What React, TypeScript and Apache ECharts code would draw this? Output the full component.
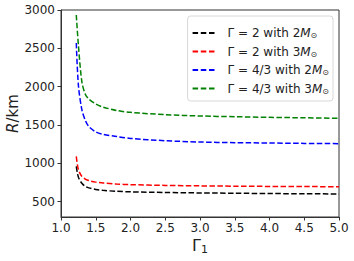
import React, { useEffect, useRef } from "react";
import * as echarts from "echarts";

const gamma1 = [1.22, 1.25, 1.3, 1.35, 1.4, 1.5, 1.6, 1.8, 2.0, 2.5, 3.0, 3.5, 4.0, 4.5, 5.0];
const black2M = [960, 820, 740, 700, 680, 660, 648, 635, 628, 620, 614, 610, 606, 603, 601];
const red3M = [1090, 920, 830, 795, 775, 755, 745, 730, 722, 712, 706, 702, 699, 697, 695];
const blue2M = [2570, 2022, 1700, 1560, 1480, 1410, 1380, 1350, 1325, 1295, 1278, 1270, 1265, 1260, 1257];
const green3M = [2935, 2544, 2065, 1900, 1840, 1775, 1735, 1690, 1665, 1635, 1618, 1608, 1600, 1594, 1588];

const seriesNames = ["Γ = 2 with 2M", "Γ = 2 with 3M", "Γ = 4/3 with 2M", "Γ = 4/3 with 3M"];
const seriesColors = ["#000000", "#ff0000", "#0000ff", "#008000"];
const seriesValues = [black2M, red3M, blue2M, green3M];
const yTicks = [500, 1000, 1500, 2000, 2500, 3000];

const dashIcon = "path://M0,0H5.5V2H0Z M8.2,0H13.7V2H8.2Z M16.4,0H21.9V2H16.4Z";

export default function App() {
  const ref = useRef<HTMLDivElement>(null);
  useEffect(() => {
    if (!ref.current) return;
    const chart = echarts.init(ref.current, undefined, { renderer: "svg" });
    const font = "DejaVu Sans";
    chart.setOption({
      animation: false,
      grid: {
        left: 61,
        right: 15,
        top: 10,
        bottom: 44,
        containLabel: false,
        outerBoundsMode: "none",
        show: true,
        borderColor: "#333",
        borderWidth: 1,
      },
      legend: {
        orient: "vertical",
        right: 21,
        top: 16,
        itemWidth: 22,
        itemHeight: 2,
        itemGap: 6,
        padding: [11, 4, 6, 5],
        backgroundColor: "#fff",
        borderColor: "#d8d8d8",
        borderWidth: 1,
        borderRadius: 3,
        icon: dashIcon,
        data: seriesNames,
        formatter: (name: string) => {
          const base = name.slice(0, -1);
          return `${base}{i|M}{s|⊙}`;
        },
        textStyle: {
          fontFamily: font,
          fontSize: 12,
          color: "#222",
          padding: [0, 0, 0, 8],
          rich: {
            i: { fontFamily: font, fontSize: 12, fontStyle: "italic", color: "#222" },
            s: { fontFamily: font, fontSize: 8, color: "#222", verticalAlign: "bottom", padding: [5, 0, 0, 0] },
          },
        },
      },
      xAxis: {
        type: "value",
        min: 1,
        max: 5,
        interval: 0.5,
        name: "{g|Γ}{s|1}",
        nameLocation: "middle",
        nameGap: 19,
        nameMoveOverlap: false,
        nameTextStyle: {
          rich: {
            g: { fontFamily: font, fontSize: 16, color: "#222" },
            s: { fontFamily: font, fontSize: 11, color: "#222", verticalAlign: "bottom", padding: [8, 0, 0, 0] },
          },
        },
        axisLine: { show: true, lineStyle: { color: "#333", width: 1 } },
        axisTick: { show: true, length: 3.5, lineStyle: { color: "#333" } },
        axisLabel: {
          fontFamily: font,
          fontSize: 12,
          color: "#222",
          margin: 5,
          formatter: (v: number) => v.toFixed(1),
        },
        splitLine: { show: false },
      },
      yAxis: {
        type: "value",
        min: 300,
        max: 3000,
        name: "{i|R}{n|/km}",
        nameLocation: "middle",
        nameGap: 41,
        nameMoveOverlap: false,
        nameTextStyle: {
          rich: {
            i: { fontFamily: font, fontSize: 15, fontStyle: "italic", color: "#222" },
            n: { fontFamily: font, fontSize: 15, color: "#222" },
          },
        },
        axisLine: { show: true, lineStyle: { color: "#333", width: 1 } },
        axisTick: { show: true, length: 3.5, lineStyle: { color: "#333" }, customValues: yTicks },
        axisLabel: {
          fontFamily: font,
          fontSize: 12,
          color: "#222",
          margin: 6,
          customValues: yTicks,
          formatter: (v: number) => String(v),
        },
        splitLine: { show: false },
      },
      series: seriesNames.map((n, i) => ({
        name: n,
        type: "line",
        showSymbol: false,
        symbol: "none",
        smooth: 0.3,
        color: seriesColors[i],
        lineStyle: { color: seriesColors[i], width: 1.5, type: [5.5, 2.4] },
        data: gamma1.map((x, j) => [x, seriesValues[i][j]]),
      })),
    });
    return () => chart.dispose();
  }, []);
  return <div ref={ref} style={{ width: 354, height: 261, position: "absolute", left: 0, top: 0 }} />;
}
